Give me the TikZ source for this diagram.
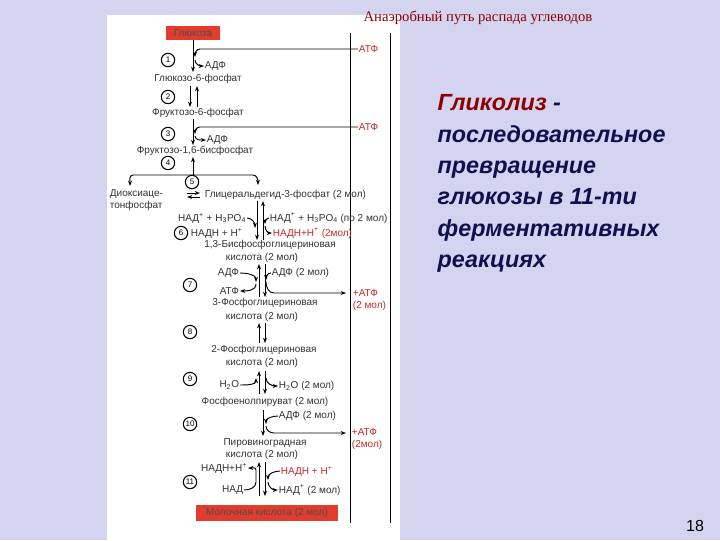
\documentclass[tikz,border=0pt]{standalone}
\usepackage{fontspec}
\setmainfont{Liberation Sans}
\newfontfamily\serifru{Liberation Serif}
\usetikzlibrary{arrows.meta}
\definecolor{bg}{RGB}{212,212,240}
\definecolor{navy}{RGB}{16,16,80}
\definecolor{dred}{RGB}{140,0,0}
\definecolor{lred}{RGB}{225,60,45}
\definecolor{rtxt}{RGB}{200,40,40}
\begin{document}
\begin{tikzpicture}[x=0.75pt,y=-0.75pt,
  lbl/.style={font=\fontsize{7.5}{8.5}\selectfont,text=black!80,inner sep=0.5pt},
  rlbl/.style={lbl,text=rtxt},
  num/.style={circle,draw,thick,minimum size=10pt,inner sep=0pt,font=\fontsize{6}{6}\selectfont},
  ar/.style={-{Stealth[length=4pt,width=3pt]},line width=0.7pt},
  ln/.style={line width=0.7pt},
  redbox/.style={fill=lred,inner sep=2pt,font=\fontsize{7.5}{8.5}\selectfont,text=black!70}]
\fill[bg] (0,0) rectangle (720,540);
\fill[white] (107,15) rectangle (400,540);
\node[font=\serifru\fontsize{11}{12}\selectfont,text=dred] (title) at (478,18) {Анаэробный путь распада углеводов};
% long vertical lines
\coordinate (L1t) at (350,33); \coordinate (L1b) at (350,523);
\coordinate (L2t) at (390,33); \coordinate (L2b) at (390,523);
\draw[ln] (L1t)--(L1b); \draw[ln] (L2t)--(L2b);
% glucose
\node[redbox,minimum width=54pt*0.75,minimum height=14pt*0.75] (glu) at (193,33) {Глюкоза};
% step 1
\node[num] (n1) at (168,60) {1};
\node[rlbl,anchor=west] (atp1) at (358,49) {АТФ};
\node[lbl,anchor=west] (adp1) at (204,66) {АДФ};
\node[lbl] (g6p) at (198,79) {Глюкозо-6-фосфат};
\draw[ar] (glu.south) -- (193,72);
\draw[ar] (atp1.west) -- (200,49) to[out=180,in=90] (195,57);
\draw[ar] (195,60) to[out=-90,in=180] (adp1.west);
% step 2
\node[num] (n2) at (168,97) {2};
\node[lbl] (f6p) at (198,113) {Фруктозо-6-фосфат};
\draw[ar] (190,86) -- (190,107);
\draw[ar] (197,107) -- (197,86);
% step 3
\node[num] (n3) at (168,134) {3};
\node[rlbl,anchor=west] (atp3) at (358,127) {АТФ};
\node[lbl,anchor=west] (adp3) at (206,140) {АДФ};
\node[lbl] (fbp) at (195,151) {Фруктозо-1,6-бисфосфат};
\draw[ar] (193,119) -- (193,145);
\draw[ar] (atp3.west) -- (200,127) to[out=180,in=90] (195,134);
\draw[ar] (195,136) to[out=-90,in=180] (adp3.west);
% step 4 branch
\node[num] (n4) at (168,163) {4};
\coordinate (br) at (193,175);
\draw[ar] (193,175) -- (193,157);
\draw[ar] (br) -- (133,175) to[out=180,in=90] (130,186);
\draw[ar] (br) -- (253,175) to[out=0,in=90] (258,185);
% step 5
\node[num] (n5) at (192,182) {5};
\node[lbl,align=left,anchor=north west] (dhap) at (109,189) {Диоксиаце-\\тонфосфат};
\node[lbl,anchor=west] (gap) at (204,195) {Глицеральдегид-3-фосфат (2 мол)};
\draw[ar] (187,193) -- (200,193);
\draw[ar] (200,197) -- (187,197);
% step 6
\node[lbl,anchor=east] (nad6l) at (247,218) {НАД\textsuperscript{+} + H\textsubscript{3}PO\textsubscript{4}};
\node[lbl,anchor=west] (nad6r) at (269,218) {НАД\textsuperscript{+} + H\textsubscript{3}PO\textsubscript{4} (по 2 мол)};
\node[num] (n6) at (181,233) {6};
\node[lbl,anchor=west] (nadh6l) at (190,233) {НАДН + H\textsuperscript{+}};
\node[rlbl,anchor=west] (nadh6r) at (272,233) {НАДН+H\textsuperscript{+} (2мол)};
\node[lbl] (bpg) at (270,245) {1,3-Бисфосфоглицериновая};
\node[lbl] (bpg2) at (262,258) {кислота (2 мол)};
\draw[ar] (257,201) -- (257,240);
\draw[ar] (263,240) -- (263,201);
\draw[ar] (nad6l.east) to[out=0,in=90] (255,228);
\draw[ar] (nad6r.west) to[out=180,in=90] (265,224);
\draw[ar] (265,226) to[out=-90,in=180] (nadh6r.west);
% step 7
\node[lbl,anchor=east] (adp7l) at (240,273) {АДФ};
\node[lbl,anchor=west] (adp7r) at (271,273) {АДФ (2 мол)};
\node[num] (n7) at (190,285) {7};
\node[lbl,anchor=east] (atp7l) at (240,291) {АТФ};
\node[rlbl,align=left,anchor=west] (atp7r) at (352,300) {+АТФ\\(2 мол)};
\node[lbl] (pg3) at (265,303) {3-Фосфоглицериновая};
\node[lbl] (pg3b) at (262,317) {кислота (2 мол)};
\draw[ar] (259,297) -- (259,264);
\draw[ar] (265,264) -- (265,297);
\draw[ar] (adp7l.east) to[out=0,in=90] (256,282);
\draw[ar] (256,284) to[out=-90,in=0] (atp7l.east);
\draw[ar] (adp7r.west) to[out=180,in=90] (266,280);
\draw[ar] (266,282) to[out=-90,in=180] (274,293) -- (346,293);
% step 8
\node[num] (n8) at (190,332) {8};
\node[lbl] (pg2) at (264,350) {2-Фосфоглицериновая};
\node[lbl] (pg2b) at (262,363) {кислота (2 мол)};
\draw[ar] (259,343) -- (259,323);
\draw[ar] (265,323) -- (265,343);
% step 9
\node[num] (n9) at (190,379) {9};
\node[lbl,anchor=east] (h2ol) at (240,385) {H\textsubscript{2}O};
\node[lbl,anchor=west] (h2or) at (278,386) {H\textsubscript{2}O (2 мол)};
\node[lbl] (pep) at (265,402) {Фосфоенолпируват (2 мол)};
\draw[ar] (259,394) -- (259,371);
\draw[ar] (265,371) -- (265,394);
\draw[ar] (h2ol.east) to[out=0,in=-90] (256,378);
\draw[ar] (266,378) to[out=-90,in=180] (h2or.west);
% step 10
\node[num] (n10) at (190,424) {10};
\node[lbl,anchor=west] (adp10) at (278,416) {АДФ (2 мол)};
\node[rlbl,align=left,anchor=west] (atp10) at (351,439) {+АТФ\\(2мол)};
\node[lbl] (pyr) at (265,443) {Пировиноградная};
\node[lbl] (pyr2) at (262,455) {кислота (2 мол)};
\draw[ar] (263,410) -- (263,436);
\draw[ar] (adp10.west) to[out=180,in=90] (266,424);
\draw[ar] (266,426) to[out=-90,in=180] (274,433) -- (346,433);
% step 11
\node[lbl,anchor=east] (nadh11l) at (248,468) {НАДН+H\textsuperscript{+}};
\node[rlbl,anchor=west] (nadh11r) at (280,471) {НАДН + H\textsuperscript{+}};
\node[num] (n11) at (190,482) {11};
\node[lbl,anchor=east] (nad11l) at (244,490) {НАД};
\node[lbl,anchor=west] (nad11r) at (278,490) {НАД\textsuperscript{+} (2 мол)};
\draw[ar] (259,496) -- (259,462);
\draw[ar] (265,462) -- (265,496);
\draw[ar] (256,470) to[out=90,in=0] (nadh11l.east);
\draw[ln] (nad11l.east) to[out=0,in=-90] (256,482) -- (256,470);
\draw[ar] (nadh11r.west) to[out=180,in=90] (268,480);
\draw[ar] (268,482) to[out=-90,in=180] (nad11r.west);
% lactate
\node[redbox,minimum width=142pt*0.75,minimum height=16pt*0.75] (lac) at (267,513) {Молочная кислота (2 мол)};
% right text
\node[anchor=north west,align=left,font=\bfseries\itshape\fontsize{17.5}{23.5}\selectfont,text=navy] (def) at (433,90)
 {\textcolor{dred}{Гликолиз} -\\последовательное\\превращение\\глюкозы в 11-ти\\ферментативных\\реакциях};
\node[font=\fontsize{12}{13}\selectfont,text=black] (pg) at (695,526) {18};
\end{tikzpicture}
\end{document}
